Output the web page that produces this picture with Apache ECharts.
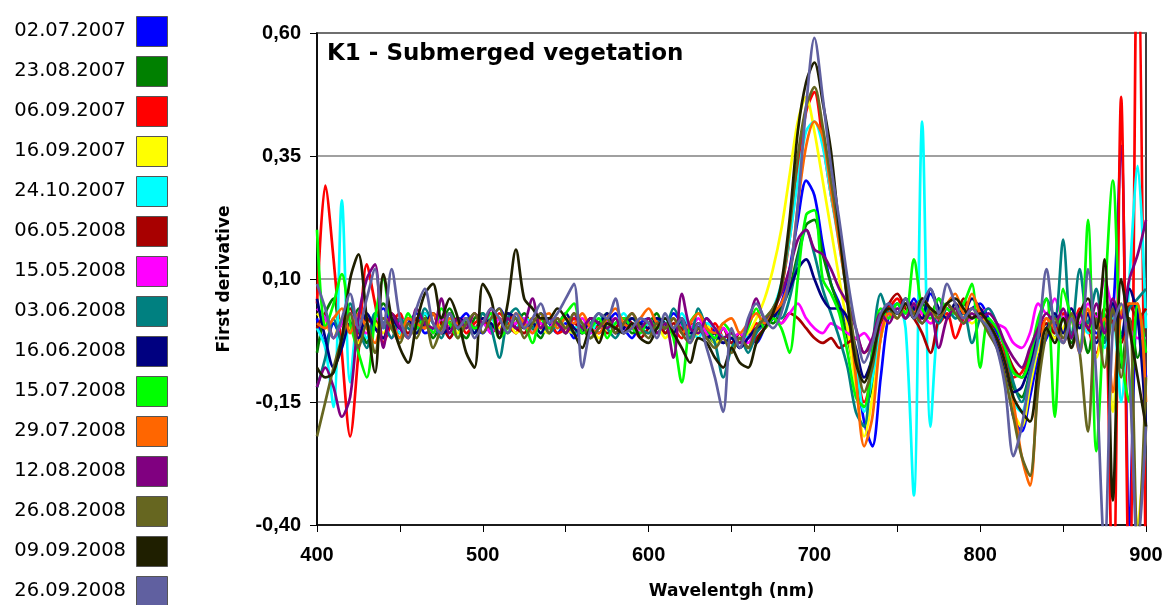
<!DOCTYPE html>
<html>
<head>
<meta charset="utf-8">
<script src="https://cdn.jsdelivr.net/npm/echarts@6.0.0/dist/echarts.min.js"></script>
<style>
  html, body { margin: 0; padding: 0; background: #fff; }
  #chart { width: 1166px; height: 605px; }
</style>
</head>
<body>
<div id="chart"></div>
<script>
// wavelength grid, 5 nm steps
const wavelengths = []
for (let w = 400; w <= 900; w += 5) wavelengths.push(w)

const yTicks = [-0.40, -0.15, 0.10, 0.35, 0.60]

const dates = [
  '02.07.2007', '23.08.2007', '06.09.2007', '16.09.2007', '24.10.2007',
  '06.05.2008', '15.05.2008', '03.06.2008', '16.06.2008', '15.07.2008',
  '29.07.2008', '12.08.2008', '26.08.2008', '09.09.2008', '26.09.2008'
]
const colors = [
  '#0000FF', '#008000', '#FF0000', '#FFFF00', '#00FFFF',
  '#A80000', '#FF00FF', '#008080', '#000080', '#00FF00',
  '#FF6600', '#800080', '#666620', '#1F1F00', '#6060A0'
]

// first derivative, one value per wavelength (400 ... 900)
const d020707 = [
  0.02, -0.03, 0.01, -0.02, 0.03, 0.00, -0.03, 0.02, 0.04, 0.00,
  -0.02, 0.01, 0.03, -0.01, 0.00, 0.02, -0.02, 0.01, 0.03, 0.00,
  -0.01, 0.02, 0.04, 0.01, -0.01, 0.02, 0.00, 0.03, 0.01, -0.01,
  0.01, -0.02, 0.00, 0.02, -0.01, 0.01, 0.03, 0.00, -0.02, 0.01,
  0.02, -0.01, 0.00, 0.03, 0.01, -0.02, 0.00, 0.02, -0.01, -0.03,
  -0.02, -0.04, -0.01, -0.03, 0.00, 0.02, 0.05, 0.12, 0.22, 0.30,
  0.27, 0.17, 0.09, 0.05, 0.00, -0.08, -0.19, -0.24, -0.10, 0.03,
  0.05, 0.02, 0.06, 0.03, 0.07, 0.04, 0.02, 0.05, 0.03, 0.04,
  0.05, 0.02, -0.01, -0.08, -0.18, -0.21, -0.14, -0.06, -0.02, 0.01,
  -0.03, 0.02, -0.04, 0.03, -0.01, 0.00, 0.03, 0.37, -0.40, 0.04,
  -0.10
]
const d230807 = [
  -0.05, 0.03, 0.06, -0.02, 0.00, 0.04, -0.03, 0.01, 0.05, 0.02,
  -0.01, 0.02, 0.00, 0.03, -0.02, 0.01, 0.04, 0.00, -0.02, 0.02,
  0.03, 0.00, 0.02, -0.01, 0.01, 0.03, 0.00, -0.02, 0.02, 0.01,
  -0.01, 0.02, 0.00, -0.02, 0.01, 0.03, 0.00, 0.02, -0.01, 0.00,
  0.01, 0.03, -0.01, 0.00, 0.02, -0.02, 0.01, -0.01, -0.03, 0.00,
  -0.03, -0.01, -0.04, 0.00, 0.02, 0.01, 0.04, 0.08, 0.15, 0.21,
  0.22, 0.15, 0.09, 0.04, -0.02, -0.10, -0.16, -0.12, -0.02, 0.04,
  0.03, 0.06, 0.02, 0.05, 0.03, 0.06, 0.02, 0.04, 0.05, 0.02,
  0.03, 0.01, -0.02, -0.06, -0.12, -0.14, -0.09, -0.03, 0.00, -0.02,
  0.02, -0.03, 0.01, -0.05, 0.03, -0.02, 0.05, -0.08, 0.02, -0.06,
  0.03
]
const d060907 = [
  0.05, 0.29, 0.14, -0.05, -0.22, -0.05, 0.13, 0.05, -0.03, 0.01,
  0.03, -0.02, 0.02, 0.00, 0.03, -0.01, 0.01, 0.02, -0.01, 0.01,
  0.02, 0.00, 0.03, 0.01, -0.01, 0.02, 0.01, 0.00, 0.02, -0.01,
  0.00, 0.02, -0.01, 0.01, 0.00, 0.02, -0.01, 0.01, 0.03, 0.00,
  -0.01, 0.01, 0.02, 0.00, -0.02, 0.01, 0.00, -0.02, 0.01, -0.02,
  -0.03, -0.01, -0.02, 0.01, 0.00, 0.03, 0.08, 0.18, 0.32, 0.44,
  0.48, 0.38, 0.27, 0.18, 0.06, -0.07, -0.15, -0.09, 0.01, 0.04,
  0.06, 0.03, 0.05, 0.02, 0.04, 0.01, 0.03, -0.02, 0.02, 0.04,
  0.03, 0.01, -0.02, -0.05, -0.10, -0.09, -0.05, -0.01, 0.02, -0.01,
  0.03, -0.02, 0.04, 0.00, -0.05, 0.03, -0.60, 0.47, -0.60, 0.90,
  -0.60
]
const d160907 = [
  0.03, 0.01, -0.02, 0.02, 0.00, -0.03, 0.02, 0.01, -0.01, 0.02,
  0.00, 0.02, -0.01, 0.01, 0.03, 0.00, 0.01, -0.01, 0.02, 0.00,
  0.01, 0.03, 0.00, 0.02, -0.01, 0.01, 0.02, 0.00, -0.01, 0.02,
  0.00, -0.01, 0.02, 0.01, -0.02, 0.00, 0.02, -0.01, 0.01, 0.00,
  -0.01, 0.01, -0.02, 0.00, 0.01, -0.02, -0.01, 0.01, -0.03, -0.02,
  -0.04, -0.02, -0.01, 0.02, 0.06, 0.12, 0.20, 0.31, 0.42, 0.47,
  0.40, 0.30, 0.20, 0.10, 0.00, -0.12, -0.22, -0.14, -0.02, 0.03,
  0.04, 0.02, 0.05, 0.03, 0.01, 0.04, 0.02, 0.05, 0.03, 0.01,
  0.02, 0.00, -0.03, -0.09, -0.17, -0.20, -0.12, -0.04, 0.01, -0.02,
  0.00, 0.03, -0.03, 0.01, -0.06, 0.02, -0.17, 0.05, -0.10, -0.40,
  -0.20
]
const d241007 = [
  0.00, -0.04, -0.16, 0.26, -0.11, 0.02, -0.02, 0.03, 0.00, 0.02,
  -0.01, 0.02, 0.00, 0.03, 0.01, -0.01, 0.02, 0.00, 0.02, -0.01,
  0.01, 0.02, -0.01, 0.03, 0.00, 0.02, 0.01, -0.01, 0.02, 0.00,
  0.02, 0.00, 0.01, -0.01, 0.02, 0.00, 0.01, 0.03, 0.00, -0.01,
  0.01, 0.00, 0.02, -0.01, 0.03, 0.00, -0.02, 0.01, 0.00, -0.02,
  -0.03, -0.01, -0.02, 0.00, 0.02, 0.04, 0.09, 0.18, 0.30, 0.40,
  0.42, 0.37, 0.27, 0.17, 0.06, -0.06, -0.17, -0.10, 0.00, 0.03,
  0.05, 0.00, -0.34, 0.42, -0.20, 0.03, 0.05, 0.02, 0.04, 0.02,
  0.03, 0.01, -0.02, -0.07, -0.15, -0.17, -0.10, -0.03, 0.01, -0.01,
  0.02, -0.02, 0.03, -0.01, 0.01, -0.04, 0.02, -0.15, 0.10, 0.33,
  0.00
]
const d060508 = [
  0.00, 0.03, -0.02, 0.01, 0.04, -0.01, 0.02, 0.00, -0.02, 0.03,
  0.01, -0.01, 0.02, 0.00, 0.03, 0.01, -0.02, 0.01, 0.02, 0.00,
  0.02, -0.01, 0.01, 0.03, 0.00, -0.01, 0.02, 0.01, 0.00, 0.02,
  -0.01, 0.01, 0.00, 0.02, 0.01, -0.01, 0.00, 0.02, 0.01, -0.02,
  0.00, 0.02, -0.01, 0.01, 0.00, -0.02, 0.01, -0.01, -0.02, 0.00,
  -0.03, -0.01, -0.04, -0.02, 0.00, 0.02, 0.01, 0.03, 0.02, 0.00,
  -0.02, -0.03, -0.02, -0.04, -0.03, -0.02, -0.05, -0.03, 0.01, 0.05,
  0.07, 0.04, 0.02, -0.01, -0.05, 0.02, 0.05, 0.03, 0.06, 0.02,
  0.04, 0.01, 0.00, -0.04, -0.08, -0.10, -0.06, -0.02, 0.01, -0.01,
  0.02, -0.01, 0.03, 0.00, -0.02, 0.04, 0.01, -0.03, 0.05, 0.02,
  0.04
]
const d150508 = [
  0.04, 0.02, -0.02, 0.01, 0.03, 0.00, -0.01, 0.02, 0.01, -0.02,
  0.01, 0.02, 0.00, 0.01, -0.01, 0.02, 0.00, 0.01, 0.02, 0.00,
  0.01, -0.01, 0.02, 0.00, 0.01, 0.02, -0.01, 0.01, 0.00, 0.02,
  0.00, 0.01, 0.02, -0.01, 0.00, 0.01, 0.02, 0.00, 0.01, -0.01,
  0.02, 0.00, 0.01, -0.01, 0.01, 0.00, 0.02, -0.01, -0.02, 0.00,
  -0.02, -0.01, -0.03, 0.00, 0.01, 0.02, 0.01, 0.03, 0.05, 0.02,
  0.00, -0.01, 0.01, 0.00, -0.01, -0.02, -0.01, -0.03, 0.00, 0.03,
  0.04, 0.02, 0.05, 0.03, 0.01, 0.02, 0.04, 0.03, 0.01, 0.02,
  0.03, 0.04, 0.01, 0.00, -0.03, -0.04, -0.01, 0.05, 0.03, 0.06,
  0.02, 0.04, 0.01, 0.05, 0.02, 0.10, 0.04, 0.03, 0.00, -0.02,
  -0.02
]
const d030608 = [
  -0.12, -0.06, 0.02, -0.03, 0.05, 0.00, -0.04, 0.03, 0.01, -0.02,
  0.02, 0.00, -0.01, 0.04, 0.01, -0.02, 0.03, 0.00, 0.02, -0.01,
  0.03, 0.00, -0.06, 0.02, 0.04, 0.01, 0.00, 0.02, -0.01, 0.01,
  0.02, -0.01, 0.00, 0.01, 0.03, 0.00, -0.02, 0.01, 0.02, 0.00,
  -0.01, 0.02, 0.00, 0.04, 0.01, -0.02, 0.04, 0.00, -0.03, -0.10,
  -0.04, -0.02, -0.05, -0.01, 0.01, 0.03, 0.02, 0.06, 0.14, 0.20,
  0.15, 0.08, 0.03, -0.02, -0.08, -0.17, -0.20, -0.04, 0.07, 0.03,
  0.05, 0.02, 0.04, 0.06, 0.03, 0.01, 0.04, 0.02, 0.03, -0.03,
  0.02, 0.04, 0.01, -0.04, -0.11, -0.15, -0.09, 0.00, 0.06, 0.02,
  0.18, -0.02, 0.12, 0.01, 0.08, -0.03, 0.05, -0.01, 0.04, 0.06,
  0.08
]
const d160608 = [
  0.06, -0.02, -0.08, -0.04, 0.01, -0.02, 0.03, 0.00, -0.02, 0.02,
  0.00, 0.02, -0.01, 0.01, 0.03, -0.01, 0.00, 0.02, 0.01, -0.01,
  0.02, 0.01, -0.01, 0.03, 0.02, 0.00, 0.01, -0.01, 0.02, 0.01,
  0.03, 0.00, -0.01, 0.02, 0.01, 0.03, -0.01, 0.00, 0.02, 0.01,
  0.00, 0.02, 0.01, -0.01, 0.02, -0.01, 0.00, -0.02, -0.01, -0.03,
  -0.02, -0.04, -0.02, 0.00, 0.01, 0.02, 0.05, 0.08, 0.12, 0.14,
  0.10, 0.06, 0.04, 0.04, 0.02, -0.04, -0.10, -0.06, 0.02, 0.05,
  0.03, 0.06, 0.04, 0.02, 0.08, 0.04, 0.02, 0.05, 0.03, 0.06,
  0.04, 0.01, -0.03, -0.08, -0.13, -0.12, -0.07, -0.02, 0.00, 0.03,
  -0.01, 0.04, 0.00, 0.03, -0.03, 0.01, 0.05, -0.02, 0.08, 0.02,
  -0.20
]
const d150708 = [
  0.20, 0.00, 0.05, 0.11, 0.01, -0.05, -0.10, 0.02, 0.10, 0.00,
  -0.02, 0.03, 0.00, 0.02, -0.01, 0.04, 0.01, -0.02, 0.02, 0.00,
  0.01, 0.03, -0.02, 0.00, 0.02, 0.01, -0.03, 0.02, 0.00, 0.01,
  0.03, 0.05, -0.01, 0.00, 0.02, -0.02, 0.01, 0.02, 0.00, -0.01,
  0.02, 0.00, 0.01, -0.02, -0.11, 0.01, 0.03, 0.00, -0.02, 0.01,
  -0.01, -0.03, 0.00, 0.04, 0.00, 0.02, 0.00, -0.05, 0.10, 0.23,
  0.24, 0.10, 0.07, 0.03, -0.05, -0.14, -0.16, -0.05, 0.04, 0.02,
  0.05, 0.03, 0.14, 0.04, 0.02, 0.06, 0.04, 0.03, 0.05, 0.09,
  -0.08, 0.02, 0.00, -0.04, -0.09, -0.10, -0.06, 0.02, 0.06, -0.18,
  0.08, 0.02, -0.04, 0.22, -0.25, 0.05, 0.30, -0.05, -0.15, 0.05,
  -0.05
]
const d290708 = [
  0.01, 0.00, 0.02, 0.04, -0.01, 0.03, 0.00, -0.03, 0.02, 0.01,
  -0.02, 0.02, 0.01, 0.00, 0.03, -0.01, 0.02, 0.01, 0.00, 0.03,
  0.01, 0.04, 0.02, 0.00, 0.03, 0.01, -0.01, 0.02, 0.03, 0.00,
  0.02, 0.01, 0.03, 0.00, -0.01, 0.02, 0.04, 0.01, 0.00, 0.02,
  0.04, 0.01, 0.00, 0.02, -0.01, 0.01, 0.03, 0.00, -0.01, 0.01,
  0.02, -0.01, 0.01, 0.03, 0.01, 0.03, 0.05, 0.10, 0.25, 0.37,
  0.42, 0.39, 0.28, 0.17, 0.06, -0.10, -0.24, -0.18, -0.02, 0.03,
  0.02, 0.05, 0.03, 0.06, 0.04, 0.02, 0.05, 0.07, 0.03, 0.07,
  0.03, 0.01, -0.02, -0.07, -0.15, -0.26, -0.32, -0.10, 0.02, 0.00,
  -0.03, 0.02, -0.05, 0.04, 0.00, 0.02, -0.13, 0.03, 0.05, 0.05,
  -0.15
]
const d120808 = [
  -0.12, -0.08, -0.12, -0.18, -0.14, 0.02, 0.10, 0.13, -0.04, 0.03,
  0.00, -0.02, 0.04, 0.01, 0.00, 0.06, -0.01, 0.02, 0.00, 0.03,
  0.01, 0.04, -0.01, 0.02, 0.00, 0.01, 0.06, 0.00, 0.02, 0.01,
  -0.01, 0.03, 0.00, 0.02, 0.01, 0.00, 0.02, -0.01, 0.01, 0.00,
  0.02, -0.01, 0.01, -0.06, 0.07, 0.00, -0.01, 0.02, 0.00, -0.02,
  -0.01, -0.03, 0.01, 0.06, 0.02, 0.04, 0.07, 0.12, 0.18, 0.20,
  0.16, 0.15, 0.12, 0.08, 0.05, 0.00, -0.05, -0.02, 0.03, 0.01,
  0.04, 0.02, 0.05, 0.01, 0.03, -0.04, 0.02, 0.04, 0.01, 0.03,
  0.02, 0.03, 0.01, -0.03, -0.06, -0.08, -0.04, 0.00, 0.03, 0.01,
  0.04, -0.02, 0.03, 0.00, 0.05, -0.01, 0.06, 0.02, 0.10, 0.15,
  0.22
]
const d260808 = [
  -0.22, -0.15, -0.08, -0.02, 0.03, -0.04, 0.01, -0.05, 0.02, 0.00,
  -0.03, 0.01, -0.02, 0.02, -0.04, 0.00, 0.03, -0.02, 0.01, 0.03,
  -0.01, 0.02, 0.04, 0.00, 0.02, -0.02, 0.01, 0.03, -0.01, 0.02,
  0.00, 0.03, 0.01, -0.02, 0.00, 0.02, -0.01, 0.01, 0.03, 0.00,
  -0.02, 0.01, 0.00, 0.02, -0.01, -0.03, 0.00, -0.02, -0.04, -0.02,
  -0.05, -0.02, -0.04, 0.00, 0.02, 0.04, 0.08, 0.20, 0.35, 0.45,
  0.49, 0.41, 0.30, 0.19, 0.07, -0.05, -0.13, -0.08, 0.02, 0.04,
  0.02, 0.05, 0.03, 0.01, 0.04, 0.02, 0.05, 0.03, 0.01, 0.04,
  0.02, -0.01, -0.04, -0.10, -0.18, -0.26, -0.30, -0.12, -0.01, 0.02,
  -0.02, 0.03, -0.05, -0.21, 0.02, -0.08, 0.04, -0.10, 0.02, -0.45,
  -0.10
]
const d090908 = [
  -0.08, -0.10, -0.09, -0.02, 0.10, 0.15, 0.02, -0.09, 0.11, 0.02,
  -0.04, -0.07, 0.01, 0.07, 0.09, 0.02, 0.06, 0.02, -0.05, -0.08,
  0.09, 0.06, -0.02, 0.05, 0.16, 0.06, 0.04, 0.02, 0.02, 0.04,
  0.02, -0.01, -0.04, 0.00, -0.03, 0.01, 0.00, -0.01, 0.01, -0.02,
  -0.03, 0.00, 0.02, -0.01, -0.04, -0.07, -0.02, -0.03, -0.06, -0.08,
  -0.04, -0.07, -0.08, -0.03, 0.00, 0.03, 0.09, 0.22, 0.40, 0.50,
  0.54, 0.46, 0.36, 0.20, 0.05, -0.07, -0.11, -0.06, 0.02, 0.04,
  0.03, 0.05, 0.02, 0.06, 0.04, 0.03, 0.05, 0.06, 0.04, 0.02,
  0.03, 0.01, -0.02, -0.07, -0.14, -0.17, -0.19, -0.08, 0.00, -0.03,
  0.02, -0.04, 0.03, 0.06, 0.00, 0.14, -0.35, 0.10, 0.00, -0.10,
  -0.20
]
const d260908 = [
  0.09, 0.04, -0.02, 0.02, 0.07, 0.00, 0.06, 0.12, 0.00, 0.12,
  0.02, -0.02, 0.04, 0.08, 0.01, -0.01, 0.03, 0.00, 0.02, -0.02,
  0.01, 0.04, 0.02, -0.01, 0.03, 0.00, 0.02, 0.05, 0.01, 0.03,
  0.06, 0.09, -0.08, 0.00, 0.03, 0.02, 0.06, -0.01, 0.00, 0.02,
  0.01, -0.02, 0.03, 0.00, 0.02, -0.03, 0.01, -0.04, -0.10, -0.17,
  0.00, -0.04, 0.02, 0.05, 0.02, 0.00, 0.03, 0.10, 0.25, 0.45,
  0.59, 0.47, 0.33, 0.22, 0.10, 0.00, -0.07, -0.03, 0.03, 0.05,
  0.03, 0.06, 0.02, 0.05, 0.08, 0.03, 0.09, 0.05, 0.02, 0.04,
  0.02, 0.00, -0.04, -0.12, -0.26, -0.20, -0.10, -0.02, 0.12, 0.00,
  -0.03, 0.02, -0.05, 0.12, -0.10, -0.45, 0.00, 0.05, -0.10, -0.45,
  -0.20
]

const values = [
  d020707, d230807, d060907, d160907, d241007,
  d060508, d150508, d030608, d160608, d150708,
  d290708, d120808, d260808, d090908, d260908
]

const font = 'Liberation Sans, Arial, sans-serif'
const wideFont = 'DejaVu Sans, Verdana, sans-serif'
const chart = echarts.init(document.getElementById('chart'), null, { renderer: 'canvas' })

// legend column drawn by hand: text on the left, colour box on the right
const legendItems = []
dates.forEach((d, i) => {
  const top = 16 + i * 40
  legendItems.push({
    type: 'text',
    left: null,
    x: 126,
    y: top + 15,
    style: {
      text: d,
      fill: '#000',
      font: '19.5px ' + wideFont,
      align: 'right',
      verticalAlign: 'middle'
    }
  })
  legendItems.push({
    type: 'rect',
    shape: { x: 136.5, y: top + 0.5, width: 31, height: 30 },
    style: { fill: colors[i], stroke: '#555', lineWidth: 1 }
  })
})

const option = {
  animation: false,
  backgroundColor: '#fff',
  color: colors,
  title: {
    text: 'K1 - Submerged vegetation',
    left: 327,
    top: 43,
    padding: 0,
    textStyle: { fontFamily: wideFont, fontSize: 23, fontWeight: 'bold', color: '#000' }
  },
  graphic: legendItems,
  grid: {
    left: 317,
    right: 20,
    top: 33,
    bottom: 80,
    show: true,
    borderColor: '#000',
    borderWidth: 1.5
  },
  xAxis: {
    type: 'value',
    min: 400,
    max: 900,
    interval: 50,
    name: 'Wavelentgh (nm)',
    nameLocation: 'middle',
    nameGap: 58,
    nameTextStyle: { fontFamily: wideFont, fontSize: 17, fontWeight: 'bold', color: '#000' },
    axisLine: { onZero: false, lineStyle: { color: '#000', width: 1.5 } },
    axisTick: { length: 7, lineStyle: { color: '#000' } },
    axisLabel: {
      margin: 20,
      fontFamily: font,
      fontSize: 20,
      fontWeight: 'bold',
      color: '#000',
      formatter: v => (v % 100 === 0 ? String(v) : '')
    },
    splitLine: { show: false }
  },
  yAxis: {
    type: 'value',
    min: yTicks[0],
    max: yTicks[yTicks.length - 1],
    interval: 0.25,
    name: 'First derivative',
    nameLocation: 'middle',
    nameGap: 84,
    nameTextStyle: { fontFamily: wideFont, fontSize: 17, fontWeight: 'bold', color: '#000' },
    axisLine: { show: true, onZero: false, lineStyle: { color: '#000', width: 1.5 } },
    axisTick: { show: true, length: 7, lineStyle: { color: '#000' } },
    axisLabel: {
      margin: 16,
      fontFamily: font,
      fontSize: 20,
      fontWeight: 'bold',
      color: '#000',
      formatter: v => v.toFixed(2).replace('.', ',')
    },
    splitLine: { lineStyle: { color: '#808080', width: 1.5 } }
  },
  series: dates.map((name, k) => ({
    name,
    type: 'line',
    data: wavelengths.map((w, i) => [w, values[k][i]]),
    showSymbol: false,
    symbol: 'none',
    smooth: 0.3,
    clip: true,
    lineStyle: { width: 2.7, color: colors[k] },
    itemStyle: { color: colors[k] }
  }))
}

chart.setOption(option)
</script>
</body>
</html>
